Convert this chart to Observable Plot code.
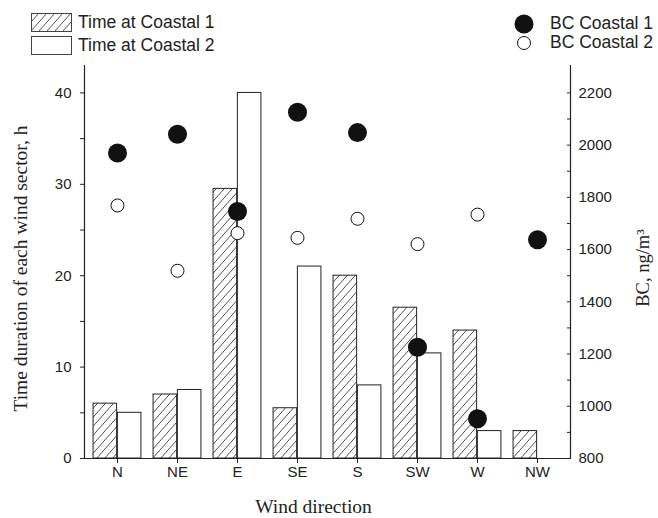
<!DOCTYPE html>
<html><head><meta charset="utf-8">
<script src="https://cdn.jsdelivr.net/npm/d3@7"></script>
<script src="https://cdn.jsdelivr.net/npm/@observablehq/plot@0.6"></script>
<style>
body{margin:0;background:#fff;}
#wrap{position:relative;width:658px;height:518px;font-family:"Liberation Sans",Arial,sans-serif;}
#wrap svg{position:absolute;left:0;top:0;}
.leg{position:absolute;font-size:17.5px;color:#222;line-height:1;white-space:nowrap;}
</style></head><body><div id="wrap"></div>
<script>
const directions = ["N","NE","E","SE","S","SW","W","NW"];
const timeCoastal1 = [6, 7, 29.5, 5.5, 20, 16.5, 14, 3];
const timeCoastal2 = [5, 7.5, 40, 21, 8, 11.5, 3, 0];
const bcCoastal1 = [1970, 2042, 1746, 2126, 2048, 1226, 952, 1638];
const bcCoastal2 = [1769, 1519, 1663, 1645, 1718, 1621, 1734, null];
const leftTicks = [0, 10, 20, 30, 40];
const leftMinor = [5, 15, 25, 35];
const rightTicks = [800, 1000, 1200, 1400, 1600, 1800, 2000, 2200];
const rightMinor = [900, 1100, 1300, 1500, 1700, 1900, 2100];

const W = 658, H = 518, ML = 84, MR = 88, MT = 65, MB = 60;
const bw = (W - ML - MR) / directions.length;
// BC axis (800..2305) mapped onto the time axis (0..43): 40 h <-> 1400 ng/m3
const toY = v => (v - 800) / 35;
const fromY = y => y * 35 + 800;

const bars1 = directions.map((d, i) => ({dir: d, t: timeCoastal1[i]})).filter(d => d.t > 0);
const bars2 = directions.map((d, i) => ({dir: d, t: timeCoastal2[i]})).filter(d => d.t > 0);
const dots1 = directions.map((d, i) => ({dir: d, v: bcCoastal1[i]})).filter(d => d.v != null);
const dots2 = directions.map((d, i) => ({dir: d, v: bcCoastal2[i]})).filter(d => d.v != null);

const ink = "#222";
const serif = "Liberation Serif, Times New Roman, serif";
const plot = Plot.plot({
  width: W, height: H,
  marginLeft: ML, marginRight: MR, marginTop: MT, marginBottom: MB,
  style: {fontFamily: "Liberation Sans, Arial, sans-serif", fontSize: "15px", color: ink, background: "transparent"},
  x: {type: "band", domain: directions, padding: 0, label: null},
  y: {domain: [0, 43], label: null},
  marks: [
    Plot.barY(bars1, {x: "dir", y: "t", fill: "url(#hatch)", stroke: ink, strokeWidth: 1,
      insetLeft: bw * 0.1, insetRight: bw * 0.5}),
    Plot.barY(bars2, {x: "dir", y: "t", fill: "white", stroke: ink, strokeWidth: 1,
      insetLeft: bw * 0.5, insetRight: bw * 0.1}),
    Plot.dot(dots1, {x: "dir", y: d => toY(d.v), r: 9.5, fill: "#111", stroke: "none"}),
    Plot.dot(dots2, {x: "dir", y: d => toY(d.v), r: 6.5, fill: "white", stroke: "#111", strokeWidth: 1}),
    Plot.ruleY([0], {stroke: ink, strokeWidth: 1.2}),
    Plot.frame({anchor: "left", stroke: ink, strokeWidth: 1.2}),
    Plot.frame({anchor: "right", stroke: ink, strokeWidth: 1.2}),
    Plot.axisY({ticks: leftTicks, tickSize: 4, tickPadding: 9, label: null, stroke: ink}),
    Plot.axisY({ticks: leftMinor, tickSize: 4, tickFormat: () => "", label: null, stroke: ink}),
    Plot.axisY({anchor: "right", ticks: rightTicks.map(toY), tickFormat: y => String(Math.round(fromY(y))),
      tickSize: 0, tickPadding: 8, label: null}),
    Plot.axisY({anchor: "right", ticks: rightTicks.concat(rightMinor).map(toY), tickSize: 4, dx: -4,
      tickFormat: () => "", label: null, stroke: ink}),
    Plot.axisX({tickSize: 5, tickPadding: 3, label: null, stroke: ink}),
    Plot.text(["Time duration of each wind sector, h"], {frameAnchor: "left", textAnchor: "middle", dx: -64, dy: 6.5, rotate: -90,
      fontFamily: serif, fontSize: 19.5, fill: ink}),
    Plot.text(["BC, ng/m³"], {frameAnchor: "right", textAnchor: "middle", dx: 73, dy: 6, rotate: -90,
      fontFamily: serif, fontSize: 18.5, fill: ink}),
    Plot.text(["Wind direction"], {frameAnchor: "bottom", textAnchor: "middle", dy: 54, dx: -14,
      fontFamily: serif, fontSize: 19.5, fill: ink})
  ]
});

const hatchPath = "M0,9 L8,0 M-8,9 L0,0 M8,9 L16,0";
const defs = d3.select(plot).insert("defs", ":first-child");
const pat = defs.append("pattern").attr("id", "hatch").attr("patternUnits", "userSpaceOnUse")
  .attr("width", 8).attr("height", 9);
pat.append("rect").attr("width", 8).attr("height", 9).attr("fill", "white");
pat.append("path").attr("d", hatchPath).attr("stroke", "#222").attr("stroke-width", 0.8);

const wrap = document.getElementById("wrap");
wrap.appendChild(plot);

// Legend
const legendTime = [
  {label: "Time at Coastal 1", hatch: true},
  {label: "Time at Coastal 2", hatch: false}
];
const legendBC = [
  {label: "BC Coastal 1", filled: true},
  {label: "BC Coastal 2", filled: false}
];
legendTime.forEach((d, i) => {
  const top = 13 + i * 23;
  const sw = document.createElementNS("http://www.w3.org/2000/svg", "svg");
  sw.setAttribute("width", 42); sw.setAttribute("height", 20);
  sw.style.left = "31px"; sw.style.top = top + "px";
  sw.innerHTML = `<defs><pattern id="lh${i}" patternUnits="userSpaceOnUse" width="8" height="9"><path d="${hatchPath}" stroke="#222" stroke-width="0.8"/></pattern></defs>` +
    `<rect x="0.5" y="0.5" width="40" height="18" fill="${d.hatch ? `url(#lh${i})` : "white"}" stroke="#444" stroke-width="1"/>`;
  wrap.appendChild(sw);
  const t = document.createElement("div");
  t.className = "leg"; t.textContent = d.label;
  t.style.left = "78px"; t.style.top = (top + 1) + "px";
  wrap.appendChild(t);
});
legendBC.forEach((d, i) => {
  const cy = 24 + i * 19;
  const sw = document.createElementNS("http://www.w3.org/2000/svg", "svg");
  sw.setAttribute("width", 22); sw.setAttribute("height", 22);
  sw.style.left = "513px"; sw.style.top = (cy - 11) + "px";
  sw.innerHTML = d.filled
    ? `<circle cx="11" cy="11" r="9.5" fill="#111"/>`
    : `<circle cx="11" cy="11" r="6.5" fill="white" stroke="#111" stroke-width="1"/>`;
  wrap.appendChild(sw);
  const t = document.createElement("div");
  t.className = "leg"; t.textContent = d.label;
  t.style.left = "550px"; t.style.top = (cy - 9) + "px";
  wrap.appendChild(t);
});
</script></body></html>
